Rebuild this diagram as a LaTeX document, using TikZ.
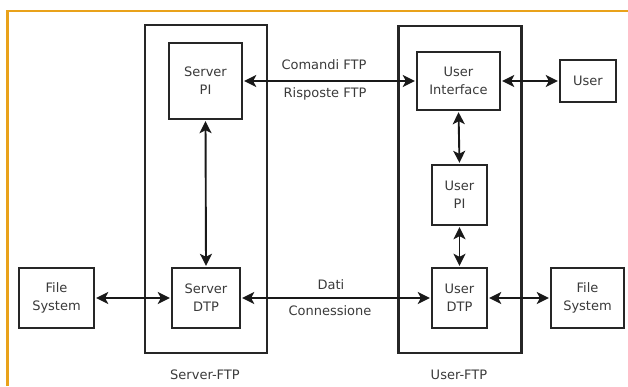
\documentclass[tikz,border=0pt]{standalone}
\usepackage{fontspec}
\setmainfont{DejaVu Sans}
\usetikzlibrary{arrows.meta}
\definecolor{frameorange}{HTML}{E9A21A}
\definecolor{txt}{HTML}{3A3A3A}
\tikzset{
  blk/.style={draw=black!85, line width=2.4pt, rectangle, inner sep=0pt, align=center,
    font=\fontsize{13}{18}\selectfont, text=txt},
  lbl/.style={font=\fontsize{13}{15}\selectfont, text=txt, inner sep=0pt},
  link/.style={line width=1.9pt, draw=black!90, {Stealth[length=12pt,width=12pt,inset=3pt]}-{Stealth[length=12pt,width=12pt,inset=3pt]}, shorten <=1pt, shorten >=1pt}
}
\begin{document}
\begin{tikzpicture}[x=1pt,y=-1pt]
\useasboundingbox (0,0) rectangle (628,386);
\draw[frameorange, line width=2.6pt] (7.5,386) -- (7.5,11) -- (628,11);
% outer containers
\node[blk, minimum width=122pt, minimum height=328pt] (sftp) at (206,189) {};
\node[blk, minimum width=123pt, minimum height=327pt] (uftp) at (460,189.5) {};
% blocks
\node[blk, fill=white, minimum width=73pt, minimum height=76pt] (spi) at (205.5,81) {Server\\PI};
\node[blk, fill=white, minimum width=68pt, minimum height=60pt] (sdtp) at (206,298) {Server\\DTP};
\node[blk, fill=white, minimum width=75pt, minimum height=60pt] (fsl) at (56.5,298) {File\\System};
\node[blk, fill=white, minimum width=83pt, minimum height=58pt] (ui) at (458.5,81) {User\\Interface};
\node[blk, fill=white, minimum width=56pt, minimum height=42pt] (user) at (588,81) {User};
\node[blk, fill=white, minimum width=55pt, minimum height=60pt] (upi) at (459.5,195) {User\\PI};
\node[blk, fill=white, minimum width=55pt, minimum height=60pt] (udtp) at (459.5,298) {User\\DTP};
\node[blk, fill=white, minimum width=73pt, minimum height=60pt] (fsr) at (587.5,298) {File\\System};
% labels
\node[lbl] (l1) at (324,65) {Comandi FTP};
\node[lbl] (l2) at (325,94) {Risposte FTP};
\node[lbl] (l3) at (331,285) {Dati};
\node[lbl] (l4) at (330,311) {Connessione};
\node[lbl] (l5) at (205,375) {Server-FTP};
\node[lbl] (l6) at (459,375) {User-FTP};
% connectors
\draw[link] (spi.east) -- (ui.west);
\draw[link] (spi.south) -- (sdtp.north);
\draw[link] (fsl.east) -- (sdtp.west);
\draw[link] (sdtp.east) -- (udtp.west);
\draw[link] (ui.east) -- (user.west);
\draw[link] (ui.south) -- (upi.north);
\draw[link] (upi.south) -- (udtp.north);
\draw[link] (udtp.east) -- (fsr.west);
\end{tikzpicture}
\end{document}
